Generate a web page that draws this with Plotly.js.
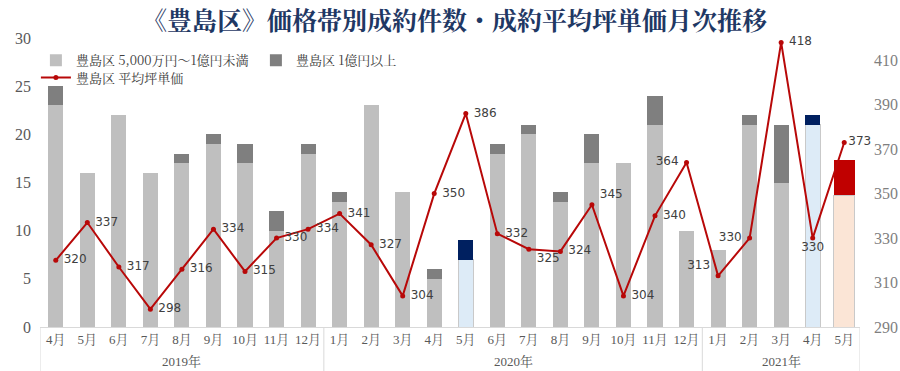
<!DOCTYPE html>
<html><head><meta charset="utf-8">
<script src="https://cdn.plot.ly/plotly-3.0.1.min.js"></script>
<style>html,body{margin:0;padding:0;background:#fff}</style>
</head><body><div id="chart" style="width:900px;height:371px"></div>
<script>
// ---- data ----
const years = ['2019年','2019年','2019年','2019年','2019年','2019年','2019年','2019年','2019年',
  '2020年','2020年','2020年','2020年','2020年','2020年','2020年','2020年','2020年','2020年','2020年','2020年',
  '2021年','2021年','2021年','2021年','2021年'];
const months = ['4月','5月','6月','7月','8月','9月','10月','11月','12月',
  '1月','2月','3月','4月','5月','6月','7月','8月','9月','10月','11月','12月',
  '1月','2月','3月','4月','5月'];
const lowerCounts = [23,16,22,16,17,19,17,10,18, 13,23,14,5,7,18,20,13,17,17,21,10, 8,21,15,21,13.7];
const upperCounts = [2,0,0,0,1,1,2,2,1, 1,0,0,1,2,1,1,1,3,0,3,0, 0,1,6,1,3.6];
const avgPrice = [320,337,317,298,316,334,315,330,334, 341,327,304,350,386,332,325,324,345,304,340,364, 313,330,418,330,373];
const seriesNames = ['豊島区 5,000万円～1億円未満','豊島区 1億円以上','豊島区 平均坪単価'];
const yearLabels = ['2019年','2020年','2021年'];
const leftTicks = [0,5,10,15,20,25,30];
const rightTicks = [290,310,330,350,370,390,410];

// ---- categories (unique keys), shown as month labels ----
const cats = years.map((y,i)=> y + months[i]);

// ---- styles ----
const G1='#BFBFBF', G2='#7F7F7F', LB='#DDEBF7', NV='#002060', PC='#FBE5D6', RD='#C00000';
const lowerColors = lowerCounts.map((v,i)=> i===13||i===24 ? LB : (i===25 ? PC : G1));
const upperColors = upperCounts.map((v,i)=> i===13||i===24 ? NV : (i===25 ? RD : G2));
const lowerLine = lowerCounts.map((v,i)=> (i===13||i===24||i===25) ? '#C9C9C9' : 'rgba(0,0,0,0)');
const barWidths = lowerCounts.map((v,i)=> i===25 ? 0.66 : 0.48);
const labelPos = avgPrice.map((v,i)=>{
  if(i===15) return 'bottom right';
  if(i===17) return 'top right';
  if(i===20||i===22) return 'middle left';
  if(i===21) return 'top left';
  if(i===24) return 'bottom center';
  return 'middle right';
});
const NB = '\u00A0';
const labelText = avgPrice.map((v,i)=>{
  const p = labelPos[i];
  if(i===25) return String(v);
  if(p.indexOf('right')>=0) return NB + String(v);
  if(p.indexOf('left')>=0) return String(v) + NB;
  return String(v);
});

// year group boundaries/centres derived from the category list
const groups = yearLabels.map(y=>{
  const idx = years.map((v,i)=>v===y?i:-1).filter(i=>i>=0);
  return {label:y, first:idx[0], last:idx[idx.length-1]};
});

const serif = '"Liberation Serif","DejaVu Serif","Noto Serif CJK JP",serif';
const cjk = '"Noto Serif CJK JP","Noto Sans CJK JP",sans-serif';

const traces = [
  {type:'bar', x:cats, y:lowerCounts, name:seriesNames[0], width:barWidths,
   marker:{color:lowerColors, line:{color:lowerLine, width:1}}, legend:'legend', hoverinfo:'y'},
  {type:'bar', x:cats, y:upperCounts, name:seriesNames[1], width:barWidths,
   marker:{color:upperColors, line:{width:0}}, legend:'legend', hoverinfo:'y'},
  {type:'scatter', mode:'lines+markers+text', x:cats, y:avgPrice, yaxis:'y2', name:seriesNames[2],
   line:{color:'#B80808', width:2}, marker:{color:'#B80808', size:5},
   text:labelText, textposition:labelPos,
   textfont:{family:'"DejaVu Sans","Noto Sans",sans-serif', size:12, color:'#404040'},
   legend:'legend2', cliponaxis:false}
];

const shapes = [];
groups.forEach((g,k)=>{
  if(k===0) shapes.push({type:'line', xref:'x', yref:'paper', x0:g.first-0.5, x1:g.first-0.5, y0:0, y1:-0.16, line:{color:'#D9D9D9', width:1}});
  shapes.push({type:'line', xref:'x', yref:'paper', x0:g.last+0.5, x1:g.last+0.5, y0:0, y1:-0.16, line:{color:'#D9D9D9', width:1}});
});
const annotations = groups.map(g=>({
  text:g.label, xref:'x', yref:'paper', x:(g.first+g.last)/2, y:-0.088, yanchor:'top', showarrow:false,
  font:{family:serif, size:13, color:'#595959'}
}));

const layout = {
  width:900, height:371,
  margin:{l:40, r:40, t:38, b:44},
  paper_bgcolor:'#fff', plot_bgcolor:'#fff',
  barmode:'stack',
  showlegend:true,
  title:{text:'《豊島区》価格帯別成約件数・成約平均坪単価月次推移', x:0.505, xanchor:'center', y:0.943, yanchor:'middle',
    font:{family:cjk, size:25, color:'#1F3864', weight:'bold'}},
  xaxis:{type:'category', tickvals:cats, ticktext:months, tickangle:0, showline:true, linecolor:'#D9D9D9', linewidth:1,
    ticks:'', showgrid:false, range:[-0.5, cats.length-0.5],
    tickfont:{family:serif, size:13, color:'#595959'}},
  yaxis:{range:[0,30], tickvals:leftTicks, showgrid:false, zeroline:false, showline:false,
    tickfont:{family:serif, size:16, color:'#595959'}, ticks:'', ticklabelstandoff:8},
  yaxis2:{range:[290,420], tickvals:rightTicks, overlaying:'y', side:'right', showgrid:false,
    zeroline:false, showline:false, tickfont:{family:serif, size:16, color:'#7F7F7F'}, ticks:'', ticklabelstandoff:13},
  legend:{orientation:'h', x:-0.005, y:0.975, xanchor:'left', yanchor:'top', bgcolor:'rgba(0,0,0,0)',
    font:{family:cjk, size:13, color:'#404040'}, entrywidth:175, traceorder:'normal', itemwidth:30},
  legend2:{orientation:'h', x:-0.005, y:0.915, xanchor:'left', yanchor:'top', bgcolor:'rgba(0,0,0,0)',
    font:{family:cjk, size:13, color:'#404040'}, itemwidth:30},
  shapes:shapes, annotations:annotations
};

Plotly.newPlot('chart', traces, layout, {displayModeBar:false, responsive:false});
</script></body></html>
